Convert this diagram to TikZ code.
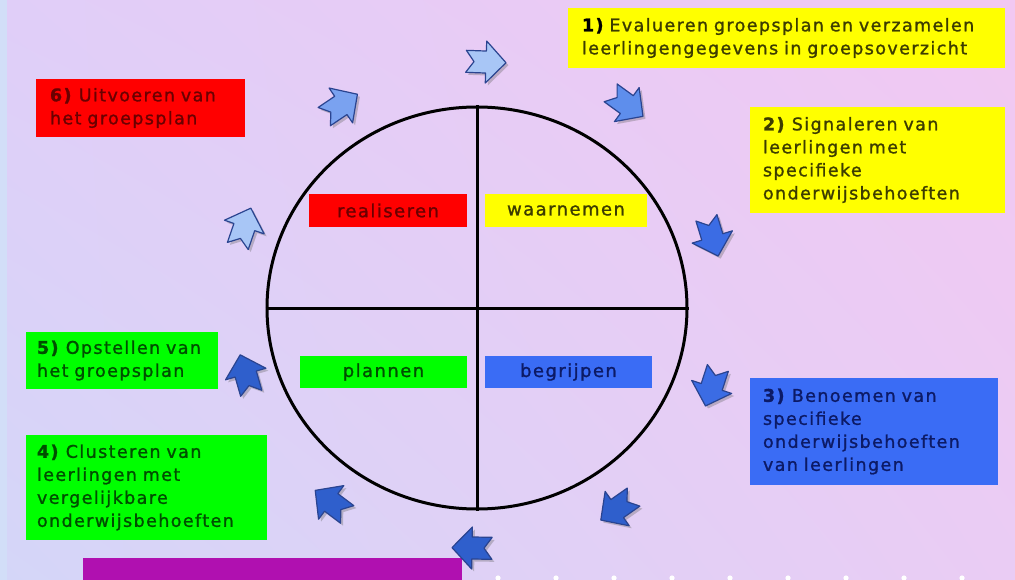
\documentclass[tikz,border=0pt]{standalone}
\usepackage{fontspec}
\setmainfont{DejaVu Sans}[LetterSpace=8, FakeBold=1.2]
\usetikzlibrary{shapes.geometric,shadows,shadings}
\definecolor{bgUL}{HTML}{E0CEF8}
\definecolor{bgUR}{HTML}{F2C8F2}
\definecolor{bgLL}{HTML}{D4D6F8}
\definecolor{bgLR}{HTML}{EACCF4}
\definecolor{strip}{HTML}{D2DEF8}
\definecolor{yel}{HTML}{FFFF00}
\definecolor{rd}{HTML}{FF0000}
\definecolor{grn}{HTML}{00FF00}
\definecolor{blu}{HTML}{3A6CF5}
\definecolor{purp}{HTML}{B010B0}
\definecolor{tyel}{HTML}{3C3C00}
\definecolor{trd}{HTML}{6A0000}
\definecolor{tgrn}{HTML}{004E00}
\definecolor{tblu}{HTML}{0C1A66}
\definecolor{arLight}{HTML}{A8C6F6}
\definecolor{arMid}{HTML}{7AA2F0}
\definecolor{arMid2}{HTML}{5E8EEC}
\definecolor{arDark}{HTML}{3B6CE4}
\definecolor{arDeep}{HTML}{2F5FCC}
\definecolor{arEdge}{HTML}{2A4490}
\tikzset{
  outbox/.style={rectangle, inner xsep=13pt, inner ysep=0pt, align=left,
    font=\fontsize{17.5}{23}\selectfont},
  inlab/.style={rectangle, inner sep=0pt, font=\fontsize{18}{20}\selectfont},
  circ/.style={ellipse, draw=black, line width=3pt, inner sep=0pt},
  divline/.style={draw=black, line width=3pt},
  arrowshape/.style={draw=arEdge, line width=1.2pt, line join=round,
    drop shadow={shadow xshift=2.5pt, shadow yshift=-2.5pt, opacity=0.35, fill=black!60}},
}
\newcommand\cyclearrow[4]{%
  \begin{scope}[shift={(#1,#2)}, rotate=#3]
    \path[arrowshape, fill=#4] (21,0) -- (1,21) -- (1,11) -- (-19,11) -- (-11,0) -- (-19,-11) -- (1,-11) -- (1,-21) -- cycle;
  \end{scope}}
\begin{document}
\begin{tikzpicture}[x=1pt,y=-1pt]
\useasboundingbox (0,0) rectangle (1015,580);
\clip (0,0) rectangle (1015,580);
\shade[upper left=bgUL, upper right=bgUR, lower left=bgLL, lower right=bgLR] (0,0) rectangle (1015,580);
\fill[strip] (0,0) rectangle (7,580);

% circle and quadrants
\node[circ, minimum width=420pt, minimum height=402pt] (ring) at (477,308) {};
\draw[divline] (ring.north) -- (ring.south);
\draw[divline] (ring.west) -- (ring.east);

% inner labels
\node[inlab, fill=rd, text=trd, minimum width=158pt, minimum height=33pt] (real) at (388,210.5) {realiseren};
\node[inlab, fill=yel, text=tyel, minimum width=162pt, minimum height=33pt] (waar) at (566,210.5) {waarnemen};
\node[inlab, fill=grn, text=tgrn, minimum width=167pt, minimum height=32pt] (plan) at (383.5,372) {plannen};
\node[inlab, fill=blu, text=tblu, minimum width=167pt, minimum height=32pt] (begr) at (568.5,372) {begrijpen};

% outer boxes
\node[outbox, fill=yel, text=tyel, minimum height=60pt, text width=409pt, inner xsep=14pt] (b1) at (786.5,38)
  {\textcolor{black}{\bfseries 1)} Evalueren groepsplan en verzamelen\\leerlingengegevens in groepsoverzicht};
\node[outbox, fill=yel, text=tyel, minimum height=106pt, text width=229pt] (b2) at (877.5,160)
  {\textbf{2)} Signaleren van\\leerlingen met\\specifieke\\onderwijsbehoeften};
\node[outbox, fill=blu, text=tblu, minimum height=107pt, text width=222pt] (b3) at (874,431.5)
  {\textbf{3)} Benoemen van\\specifieke\\onderwijsbehoeften\\van leerlingen};
\node[outbox, fill=grn, text=tgrn, minimum height=105pt, text width=219pt, inner xsep=11pt] (b4) at (146.5,487.5)
  {\textbf{4)} Clusteren van\\leerlingen met\\vergelijkbare\\onderwijsbehoeften};
\node[outbox, fill=grn, text=tgrn, minimum height=57pt, text width=170pt, inner xsep=11pt] (b5) at (122,360.5)
  {\textbf{5)} Opstellen van\\het groepsplan};
\node[outbox, fill=rd, text=trd, minimum height=58pt, text width=181pt, inner xsep=14pt] (b6) at (140.5,108)
  {\textbf{6)} Uitvoeren van\\het groepsplan};

% bottom bar
\node[rectangle, fill=purp, inner sep=0pt, minimum width=379pt, minimum height=30pt, anchor=north west] (bar) at (83,558) {};
\foreach \i in {0,...,8} \fill[white] (498+\i*58,578) circle (2.6);

% cycle arrows (screen angle clockwise -> rotate=-angle)
\cyclearrow{485}{62}{-2}{arLight}
\cyclearrow{626}{104}{-36}{arMid2}
\cyclearrow{712}{236}{-73}{arDark}
\cyclearrow{712}{386}{-108}{arDark}
\cyclearrow{618}{508}{-145}{arDeep}
\cyclearrow{473}{548}{-181}{arDeep}
\cyclearrow{332}{503}{-217}{arDeep}
\cyclearrow{246}{375}{-254}{arDeep}
\cyclearrow{244}{228}{-289}{arLight}
\cyclearrow{340}{106}{-326}{arMid}
\end{tikzpicture}
\end{document}
